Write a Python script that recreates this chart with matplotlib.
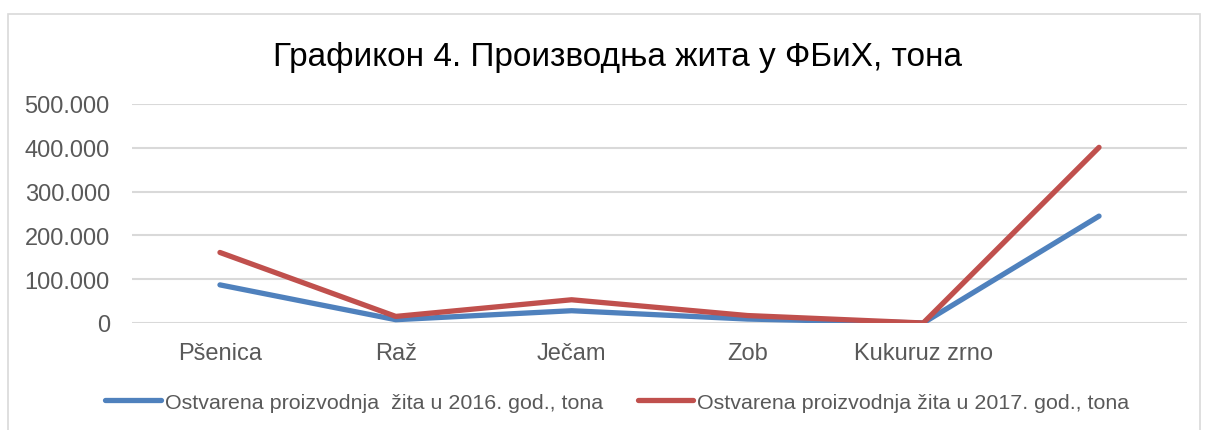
import matplotlib
matplotlib.use('Agg')
import matplotlib.pyplot as plt
from matplotlib.ticker import FuncFormatter

plt.rcParams['font.family'] = ['Liberation Sans', 'DejaVu Sans']

categories = ['Pšenica', 'Raž', 'Ječam', 'Zob', 'Kukuruz zrno', '']
prod_2016 = [87000, 7500, 28000, 9000, 0, 244000]
prod_2017 = [161000, 15000, 53000, 17000, 0, 401000]
label_2016 = 'Ostvarena proizvodnja  žita u 2016. god., tona'
label_2017 = 'Ostvarena proizvodnja žita u 2017. god., tona'
title = 'Графикон 4. Производња жита у ФБиХ, тона'

grey = '#595959'
grid = '#d9d9d9'

fig = plt.figure(figsize=(12.06, 4.31), dpi=100)
ax = fig.add_axes([0.1095, 0.2483, 0.8747, 0.5081])

x = range(len(categories))
ax.plot(x, prod_2016, color='#4F81BD', lw=3.8, solid_capstyle='round',
        solid_joinstyle='round', label=label_2016)
ax.plot(x, prod_2017, color='#C0504D', lw=3.8, solid_capstyle='round',
        solid_joinstyle='round', label=label_2017)

ax.set_xlim(-0.5, len(categories) - 0.5)
ax.set_ylim(0, 500000)
ax.set_yticks(range(0, 500001, 100000))
ax.yaxis.set_major_formatter(FuncFormatter(lambda v, p: f'{int(v):,}'.replace(',', '.')))
ax.set_xticks(list(x))
ax.set_xticklabels(categories)
ax.tick_params(axis='both', length=0, labelsize=17, colors=grey)
ax.tick_params(axis='x', pad=14)
ax.tick_params(axis='y', pad=16)
ax.grid(axis='y', color=grid, lw=1.5)
ax.set_axisbelow(True)
for s in ax.spines.values():
    s.set_visible(False)

fig.text(0.512, 0.866, title, ha='center', va='center', fontsize=24,
         color='black')

fig.legend(loc='center', bbox_to_anchor=(0.512, 0.064), ncol=2, frameon=False,
           fontsize=15.4, handlelength=2.6, handletextpad=0.2, columnspacing=1.6,
           labelcolor=grey)

# outer chart frame
fig.add_artist(plt.Rectangle((8 / 1206, -0.05), 1192 / 1206, 1 - 15 / 431 + 0.05,
                             transform=fig.transFigure, fill=False,
                             edgecolor=grid, lw=1.2))

fig.savefig('out.png', dpi=100)
plt.close()
